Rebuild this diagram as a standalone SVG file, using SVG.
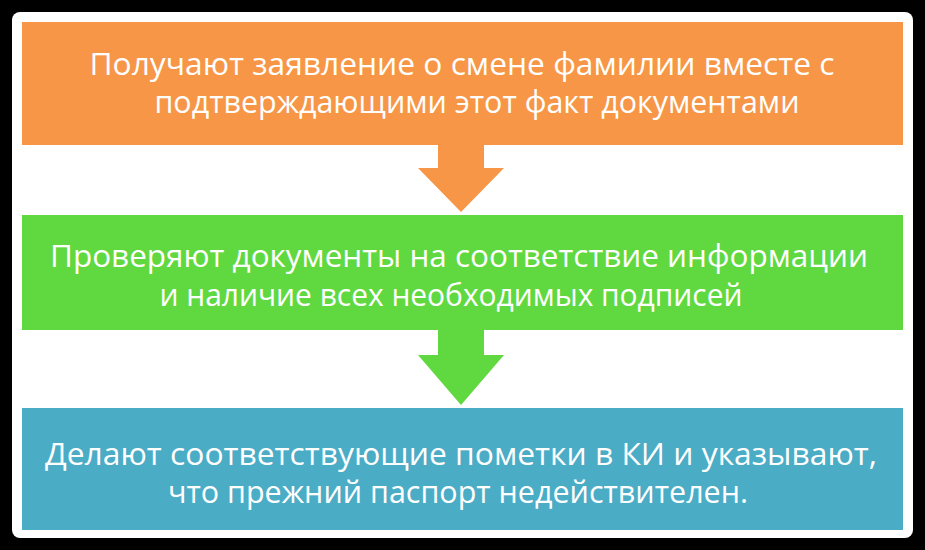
<svg xmlns="http://www.w3.org/2000/svg" width="925" height="550" viewBox="0 0 925 550">
<style>
text{font-family:"Open Sans","Liberation Sans",sans-serif;font-size:31px;fill:#fff;text-anchor:middle}
</style>
<rect x="0" y="0" width="925" height="550" fill="#000"/>
<rect x="12" y="12" width="901" height="526" rx="8" fill="#fff"/>
<g id="n1"><rect x="22" y="22" width="881" height="123" fill="#F79646"/>
<text x="462" y="75" textLength="745" lengthAdjust="spacingAndGlyphs">Получают заявление о смене фамилии вместе с</text>
<text x="477" y="113" textLength="645" lengthAdjust="spacingAndGlyphs">подтверждающими  этот факт документами</text></g>
<g id="connectors">
<polygon points="438,145 484,145 484,168 504,168 461,212 418,168 438,168" fill="#F79646"/>
<polygon points="438,330 484,330 484,355 504,355 461,405 418,355 438,355" fill="#5FD93F"/>
</g>
<g id="n2"><rect x="22" y="215" width="881" height="115" fill="#5FD93F"/>
<text x="459" y="267" textLength="818" lengthAdjust="spacingAndGlyphs">Проверяют документы на соответствие информации</text>
<text x="451" y="306" textLength="583" lengthAdjust="spacingAndGlyphs">и наличие всех необходимых подписей</text></g>
<g id="n3"><rect x="22" y="408" width="881" height="122" fill="#4BACC6"/>
<text x="461" y="465" textLength="832" lengthAdjust="spacingAndGlyphs">Делают соответствующие пометки в КИ и указывают,</text>
<text x="458" y="503" textLength="580" lengthAdjust="spacingAndGlyphs">что прежний паспорт недействителен.</text></g>
</svg>
